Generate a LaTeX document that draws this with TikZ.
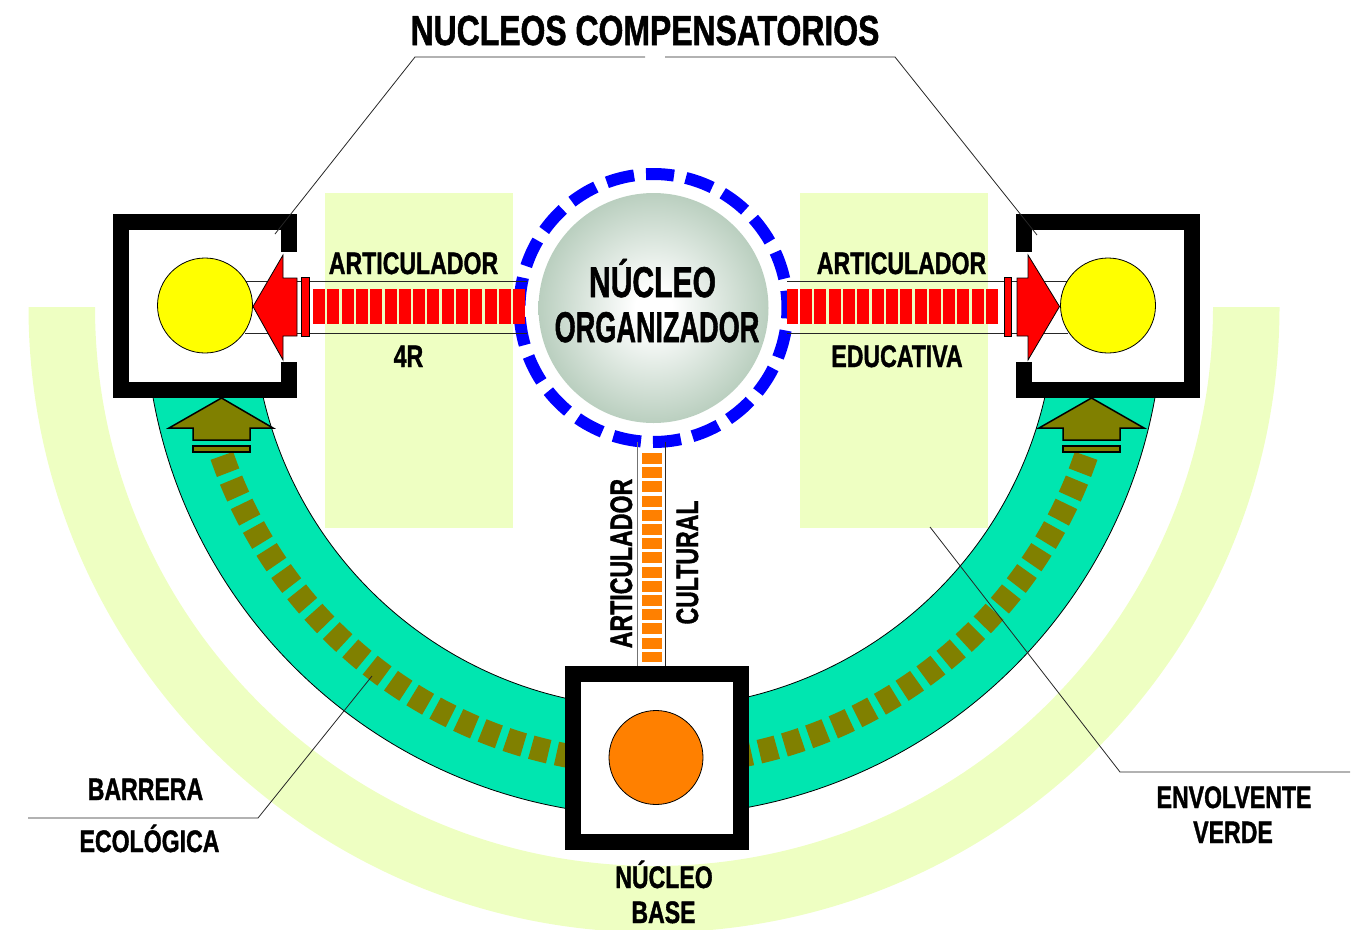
\documentclass[tikz,border=0pt]{standalone}
\usepackage{fontspec}
\setmainfont{Liberation Sans}
\newfontfamily\hvy[BoldFeatures={FakeBold=1.5}]{Liberation Sans}
\usepackage{graphicx}
\definecolor{lg}{RGB}{238,255,194}
\definecolor{tealc}{RGB}{0,230,176}
\definecolor{olivec}{RGB}{128,128,0}
\definecolor{redc}{RGB}{255,0,0}
\definecolor{orangec}{RGB}{255,128,0}
\definecolor{yelc}{RGB}{255,255,0}
\definecolor{ringb}{RGB}{0,0,255}
\definecolor{sphg}{RGB}{110,144,120}
\definecolor{sphm}{RGB}{176,200,182}
\pgfdeclareradialshading{sph}{\pgfpoint{0bp}{0bp}}{color(0bp)=(white); color(4bp)=(white); color(28bp)=(sphm); color(50bp)=(sphg)}
\newcommand{\mylbl}[1]{\scalebox{0.745}[1]{\fontsize{31pt}{31pt}\hvy\bfseries #1}}
\begin{document}
\begin{tikzpicture}[x=1pt,y=-1pt,
  thinline/.style={draw=black!85, line width=0.8pt},
  lbl/.style={inner sep=0pt, anchor=base},
  boxframe/.style={draw=black, line width=16pt, fill=white, minimum size=168pt, inner sep=0pt},
  redarrow/.style={fill=redc, draw=black, line width=0.8pt},
  olivearrow/.style={fill=olivec, draw=black, line width=1.5pt},
  reddash/.style={redc, line width=35pt, dash pattern=on 12pt off 2.3pt},
  olivedash/.style={olivec, line width=24pt, dash pattern=on 18pt off 8pt}]
\useasboundingbox (0,0) rectangle (1357,929);
% envolvente verde
\begin{scope}
\clip (0,307) rectangle (1357,935);
\fill[lg, even odd rule] (654,307) circle[radius=625.5pt] (654,307) circle[radius=559pt];
\end{scope}
\fill[lg] (325,193) rectangle (513,528);
\fill[lg] (800,193) rectangle (988,528);
% barrera ecologica
\begin{scope}
\clip (0,392) rectangle (1357,935);
\fill[tealc, even odd rule] (654,307) circle[radius=509pt] (654,307) circle[radius=401pt];
\draw[black, line width=0.8pt] (654,307) circle[radius=509pt] (654,307) circle[radius=401pt];
\end{scope}
\draw[olivedash] plot[domain=0:71, samples=90] ({654+457*cos(161-\x)},{307+457*sin(161-\x)});
\draw[olivedash] plot[domain=0:71, samples=90] ({654+457*cos(19+\x)},{307+457*sin(19+\x)});
% olive arrows
\filldraw[olivearrow] (221.5,398) -- (273,428) -- (250,428) -- (250,440) -- (193,440) -- (193,428) -- (169,428) -- cycle;
\filldraw[olivearrow] (193,446) rectangle (250,452);
\filldraw[olivearrow] (1091.5,398) -- (1144,428) -- (1120,428) -- (1120,440) -- (1063,440) -- (1063,428) -- (1039,428) -- cycle;
\filldraw[olivearrow] (1063,446) rectangle (1120,452);
% boxes
\node[boxframe] (bl) at (205,306) {};
\node[boxframe] (br) at (1108,306) {};
\node[boxframe] (bb) at (656.5,758) {};
\fill[white] (280,252) rectangle (298,362);
\fill[white] (1015,252) rectangle (1033,362);
% nucleo organizador
\node[circle, inner sep=0pt, minimum size=230pt, shading=sph] (org) at (653.5,308) {};
\foreach \i in {0,...,20}{
  \pgfmathsetmacro\ra{-93.2+\i*17.142857}
  \pgfmathsetmacro\rb{\ra+12}
  \draw[ringb, line width=12pt] plot[domain=\ra:\rb, samples=7] ({653.5+134*cos(\x)},{308+134*sin(\x)});
}
% connectors left
\coordinate (la1) at (245,281); \coordinate (lb1) at (527,281);
\coordinate (la2) at (245,333); \coordinate (lb2) at (527,333);
\draw[thinline] (la1) -- (lb1);
\draw[thinline] (la2) -- (lb2);
\coordinate (rs1) at (313,306.5); \coordinate (re1) at (527,306.5);
\draw[reddash] (rs1) -- (re1);
% connectors right
\coordinate (ra1) at (1068,281); \coordinate (rb1) at (787,281);
\coordinate (ra2) at (1068,333); \coordinate (rb2) at (787,333);
\draw[thinline] (ra1) -- (rb1);
\draw[thinline] (ra2) -- (rb2);
\coordinate (rs2) at (998,306.5); \coordinate (re2) at (787,306.5);
\draw[reddash] (rs2) -- (re2);
% yellow circles
\node[circle, inner sep=0pt, minimum size=95pt, fill=yelc, draw=black, line width=0.8pt] (yl) at (205,305.5) {};
\node[circle, inner sep=0pt, minimum size=95pt, fill=yelc, draw=black, line width=0.8pt] (yr) at (1108,305.5) {};
% red arrows
\filldraw[redarrow] (253,306.5) -- (283,255) -- (283,278) -- (297,278) -- (297,336) -- (283,336) -- (283,360) -- cycle;
\filldraw[redarrow] (301,277) rectangle (309,336);
\filldraw[redarrow] (1059.5,306.5) -- (1028,255) -- (1028,278) -- (1017,278) -- (1017,336) -- (1028,336) -- (1028,360) -- cycle;
\filldraw[redarrow] (1004,277) rectangle (1011,336);
% vertical connector
\coordinate (va1) at (637.7,442); \coordinate (vb1) at (637.7,666);
\coordinate (va2) at (665.7,442); \coordinate (vb2) at (665.7,666);
\draw[draw=black!55, line width=0.8pt] (va1) -- (vb1);
\draw[thinline] (va2) -- (vb2);
\coordinate (vo1) at (651.7,453); \coordinate (vo2) at (651.7,662);
\draw[orangec, line width=20pt, dash pattern=on 11pt off 3.2pt] (vo1) -- (vo2);
% orange circle
\node[circle, inner sep=0pt, minimum size=94pt, fill=orangec, draw=black, line width=0.8pt] (ob) at (656,757.5) {};
% leader lines
\coordinate (tl1) at (645,57); \coordinate (tl2) at (415,57); \coordinate (tl3) at (275,234);
\coordinate (tr1) at (665,57); \coordinate (tr2) at (895,57); \coordinate (tr3) at (1037,235);
\coordinate (bl1) at (28,818); \coordinate (bl2) at (258,818); \coordinate (bl3) at (372,676);
\coordinate (el1) at (1350,772); \coordinate (el2) at (1120,772); \coordinate (el3) at (930,527);
\draw[thinline] (tl1) -- (tl2) -- (tl3);
\draw[thinline] (tr1) -- (tr2) -- (tr3);
\draw[thinline] (bl1) -- (bl2) -- (bl3);
\draw[thinline] (el1) -- (el2) -- (el3);
% texts
\node[lbl] (title) at (645,45) {\scalebox{0.76}[1]{\fontsize{42pt}{42pt}\hvy\bfseries NUCLEOS COMPENSATORIOS}};
\node[lbl] (t1) at (413.5,274) {\mylbl{ARTICULADOR}};
\node[lbl] (t2) at (408.5,367) {\mylbl{4R}};
\node[lbl] (t3) at (901.5,274) {\mylbl{ARTICULADOR}};
\node[lbl] (t4) at (897,367) {\mylbl{EDUCATIVA}};
\node[lbl] (t5) at (652.5,297) {\scalebox{0.70}[1]{\fontsize{43pt}{43pt}\hvy\bfseries NÚCLEO}};
\node[lbl] (t6) at (657,342) {\scalebox{0.63}[1]{\fontsize{43pt}{43pt}\hvy\bfseries ORGANIZADOR}};
\node[lbl, rotate=90] (t7) at (632,563.5) {\mylbl{ARTICULADOR}};
\node[lbl, rotate=90] (t8) at (698,562.5) {\mylbl{CULTURAL}};
\node[lbl] (t9) at (664,888) {\mylbl{NÚCLEO}};
\node[lbl] (t10) at (663.5,923) {\mylbl{BASE}};
\node[lbl] (t11) at (145.5,800) {\mylbl{BARRERA}};
\node[lbl] (t12) at (149.5,852) {\mylbl{ECOLÓGICA}};
\node[lbl] (t13) at (1234,808) {\mylbl{ENVOLVENTE}};
\node[lbl] (t14) at (1233,843) {\mylbl{VERDE}};
\end{tikzpicture}
\end{document}
